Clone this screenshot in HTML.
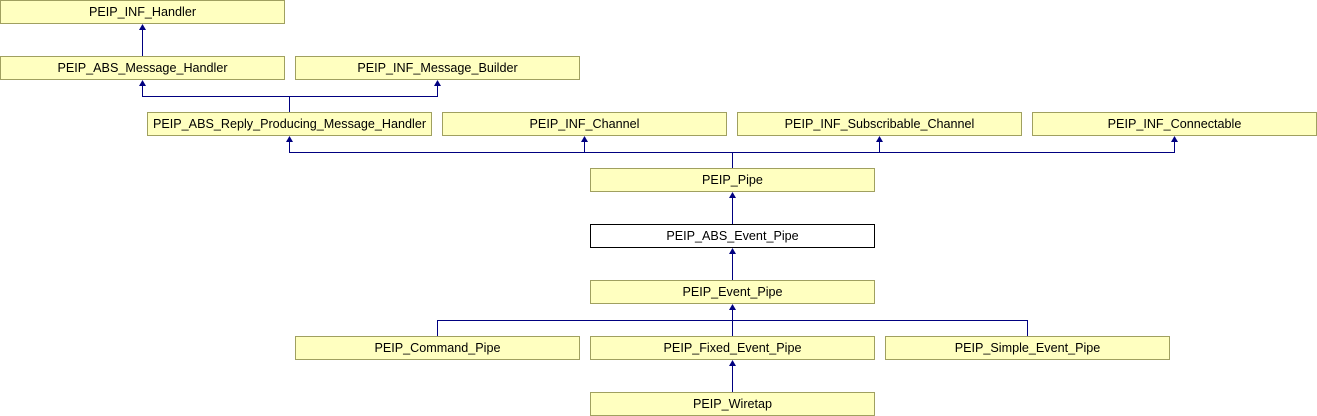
<!DOCTYPE html>
<html><head><style>
body{margin:0;width:1317px;height:416px;background:#fff;overflow:hidden;position:relative;font-family:"Liberation Sans",Arial,sans-serif}
.b{position:absolute;box-sizing:border-box;width:285px;height:24px;background:#ffffc0;border:1px solid #a0a060;font-size:12.6px;line-height:22px;text-align:center;color:#000}
.w{background:#fff;border-color:#000}
svg{position:absolute;left:0;top:0}
</style></head><body>
<svg width="1317" height="416">
<g stroke="#000080" stroke-width="1" fill="none">
<path d="M142.5,56 V26"/>
<path d="M289.5,112 V96.5 H142.5 V82"/>
<path d="M289.5,96.5 H437.5 V82"/>
<path d="M732.5,168 V152.5 H289.5 V138"/>
<path d="M584.5,152.5 V138"/>
<path d="M732.5,152.5 H1174.5 V138"/>
<path d="M879.5,152.5 V138"/>
<path d="M732.5,224 V194"/>
<path d="M732.5,280 V250"/>
<path d="M732.5,336 V306"/>
<path d="M437.5,336 V320.5 H1027.5 V336"/>
<path d="M732.5,392 V362"/>
</g>
<g fill="#000080">
<polygon points="142.5,24 139,30 146,30"/>
<polygon points="142.5,80 139,86 146,86"/>
<polygon points="437.5,80 434,86 441,86"/>
<polygon points="289.5,136 286,142 293,142"/>
<polygon points="584.5,136 581,142 588,142"/>
<polygon points="879.5,136 876,142 883,142"/>
<polygon points="1174.5,136 1171,142 1178,142"/>
<polygon points="732.5,192 729,198 736,198"/>
<polygon points="732.5,248 729,254 736,254"/>
<polygon points="732.5,304 729,310 736,310"/>
<polygon points="732.5,360 729,366 736,366"/>
</g></svg>
<div class="b" style="left:0;top:0">PEIP_INF_Handler</div>
<div class="b" style="left:0;top:56px">PEIP_ABS_Message_Handler</div>
<div class="b" style="left:295px;top:56px">PEIP_INF_Message_Builder</div>
<div class="b" style="left:147px;top:112px">PEIP_ABS_Reply_Producing_Message_Handler</div>
<div class="b" style="left:442px;top:112px">PEIP_INF_Channel</div>
<div class="b" style="left:737px;top:112px">PEIP_INF_Subscribable_Channel</div>
<div class="b" style="left:1032px;top:112px">PEIP_INF_Connectable</div>
<div class="b" style="left:590px;top:168px">PEIP_Pipe</div>
<div class="b w" style="left:590px;top:224px">PEIP_ABS_Event_Pipe</div>
<div class="b" style="left:590px;top:280px">PEIP_Event_Pipe</div>
<div class="b" style="left:295px;top:336px">PEIP_Command_Pipe</div>
<div class="b" style="left:590px;top:336px">PEIP_Fixed_Event_Pipe</div>
<div class="b" style="left:885px;top:336px">PEIP_Simple_Event_Pipe</div>
<div class="b" style="left:590px;top:392px">PEIP_Wiretap</div>
</body></html>
